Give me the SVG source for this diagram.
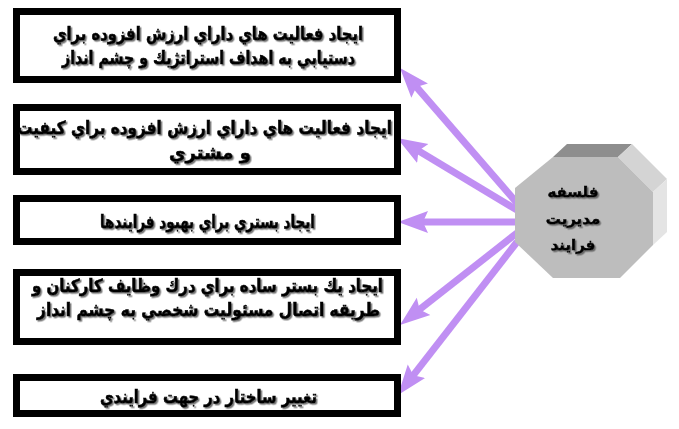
<svg xmlns="http://www.w3.org/2000/svg" width="679" height="429" viewBox="0 0 679 429">
<style>
.box{fill:#ffffff;stroke:#000000;stroke-width:7}
.t{font-family:"DejaVu Sans",sans-serif;font-weight:bold;font-size:18px;fill:#000000;stroke:#000000;stroke-width:0.6;text-anchor:middle;filter:url(#sh)}
.ot{font-family:"DejaVu Sans",sans-serif;font-weight:bold;font-size:15px;fill:#000000;stroke:#000000;stroke-width:0.5;text-anchor:middle;filter:url(#sh)}
.c{stroke:#c08ff3;stroke-width:7;fill:none;marker-end:url(#ah)}
</style>
<defs>
<filter id="sh" x="-10%" y="-30%" width="120%" height="160%">
<feDropShadow dx="1.5" dy="1.5" stdDeviation="0.6" flood-color="#555555" flood-opacity="0.8"/>
</filter>
<marker id="ah" markerUnits="userSpaceOnUse" markerWidth="32" markerHeight="24" refX="10" refY="12" orient="auto" viewBox="0 0 32 24">
<path d="M0,1 L30,12 L0,23 L5,12 Z" fill="#c08ff3"/>
</marker>
</defs>
<rect width="679" height="429" fill="#ffffff"/>
<g id="connectors">
<line class="c" x1="517" y1="203" x2="413.1" y2="83.1"/>
<line class="c" x1="517" y1="210" x2="414.2" y2="148.3"/>
<line class="c" x1="517" y1="222" x2="418" y2="222"/>
<line class="c" x1="517" y1="233" x2="415.7" y2="312.6"/>
<line class="c" x1="517" y1="242" x2="410.3" y2="379.2"/>
</g>
<g id="box1">
<rect class="box" x="16.5" y="11.5" width="381" height="68"/>
<text class="t" x="208" y="40" textLength="310" lengthAdjust="spacingAndGlyphs">ايجاد فعاليت هاي داراي ارزش افزوده براي</text>
<text class="t" x="208.5" y="64" textLength="293" lengthAdjust="spacingAndGlyphs">دستيابي به اهداف استراتژيك و چشم انداز</text>
</g>
<g id="box2">
<rect class="box" x="16.5" y="107.5" width="381" height="64"/>
<text class="t" x="204.5" y="134" textLength="375" lengthAdjust="spacingAndGlyphs">ايجاد فعاليت هاي داراي ارزش افزوده براي كيفيت</text>
<text class="t" x="210" y="159">و مشتري</text>
</g>
<g id="box3">
<rect class="box" x="16.5" y="198.5" width="381" height="43"/>
<text class="t" x="207.5" y="228" textLength="215" lengthAdjust="spacingAndGlyphs">ايجاد بستري براي بهبود فرايندها</text>
</g>
<g id="box4">
<rect class="box" x="16.5" y="272.5" width="381" height="69"/>
<text class="t" x="207.5" y="292" textLength="351" lengthAdjust="spacingAndGlyphs">ايجاد يك بستر ساده براي درك وظايف كاركنان و</text>
<text class="t" x="208.5" y="316" textLength="343" lengthAdjust="spacingAndGlyphs">طريقه اتصال مسئوليت شخصي به چشم انداز</text>
</g>
<g id="box5">
<rect class="box" x="16.5" y="377.5" width="381" height="36"/>
<text class="t" x="208.5" y="403" textLength="217" lengthAdjust="spacingAndGlyphs">تغيير ساختار در جهت فرايندي</text>
</g>
<g id="octagon">
<polygon points="553,157 618,157 632,144 567,144" fill="#8e8e8e"/>
<polygon points="618,157 632,144 667,179 653,192" fill="#d4d4d4"/>
<polygon points="653,192 667,179 667,232 653,245" fill="#e4e4e4"/>
<polygon points="553,157 618,157 653,192 653,245 620,278 553,278 515,242 515,188" fill="#bdbdbd"/>
<text class="ot" x="573" y="197">فلسفه</text>
<text class="ot" x="573" y="224">مديريت</text>
<text class="ot" x="573" y="250">فرايند</text>
</g>
</svg>
